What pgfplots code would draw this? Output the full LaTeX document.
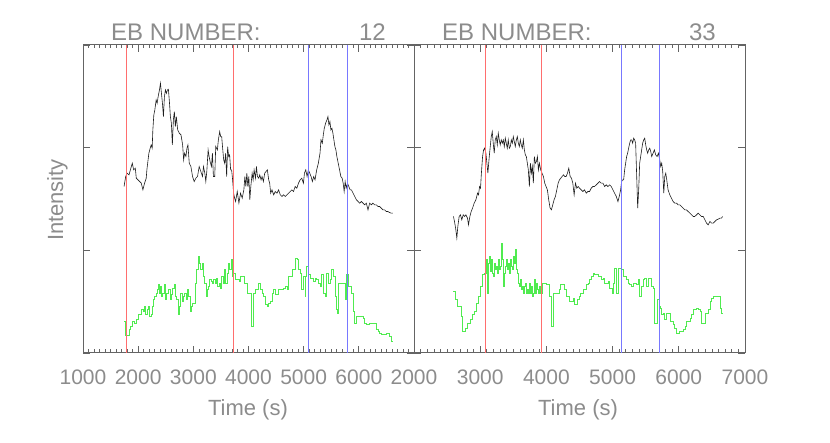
\documentclass[border=0pt]{standalone}
\usepackage{fontspec}
\setmainfont{Liberation Sans}
\usepackage{pgfplots}
\pgfplotsset{compat=1.18}
\definecolor{txtgray}{RGB}{140,140,140}
\definecolor{axgray}{RGB}{100,100,100}
\definecolor{vred}{RGB}{255,110,110}
\definecolor{vblue}{RGB}{120,120,255}
\definecolor{lgreen}{RGB}{80,235,80}
\definecolor{curve}{RGB}{30,30,30}
\newcommand{\ticklbl}{\fontsize{21}{22}\selectfont}
\newcommand{\axlbl}{\fontsize{22}{23}\selectfont}
\newcommand{\ttl}{\fontsize{24}{25}\selectfont}
\pgfplotsset{
  ebpanel/.style={
    scale only axis, anchor=south west,
    width=331pt, height=308pt, ymin=0, ymax=925,
    axis line style={axgray, line width=1pt},
    tick style={axgray, line width=0.7pt},
    major tick length=7pt, minor tick length=3.5pt,
    tick align=inside,
    ytick={0,308.33,616.67,925}, minor y tick num=4, yticklabels={},
    minor x tick num=9,
    xticklabel style={font=\ticklbl, text=txtgray, yshift=-13pt},
    clip=false,
  },
  vline/.style={line width=0.9pt},
}
\begin{document}
\begin{tikzpicture}
\path[use as bounding box] (0pt,0pt) rectangle (830pt,443pt);

% left panel
\begin{axis}[ebpanel, at={(83pt,90pt)},
  xmin=1000, xmax=7000, xtick={1000,2000,...,7000},
  xticklabels={1000,2000,3000,4000,5000,6000,}]
  \addplot[curve, line width=0.6pt] coordinates {
    (1744,500)(1774,530)(1798,540)(1834,535)(1876,560)(1894,570)(1918,550)(1948,555)(1966,525)(1996,520)
    (2026,515)(2056,510)(2086,490)(2116,510)(2146,525)(2158,550)(2176,575)(2194,600)(2218,615)(2236,625)
    (2254,615)(2266,670)(2284,715)(2302,730)(2326,760)(2344,750)(2362,770)(2386,790)(2404,810)(2422,780)
    (2440,750)(2458,710)(2476,770)(2494,790)(2512,780)(2530,790)(2548,792)(2566,755)(2584,710)(2602,690)
    (2620,625)(2638,700)(2656,725)(2674,680)(2692,710)(2716,670)(2746,660)(2776,655)(2806,625)(2824,580)
    (2842,600)(2866,590)(2884,615)(2902,625)(2926,570)(2956,560)(2986,530)(3016,515)(3046,525)(3076,530)
    (3106,560)(3136,545)(3166,530)(3184,560)(3208,540)(3226,515)(3244,545)(3268,610)(3286,590)(3304,575)
    (3328,560)(3346,600)(3364,530)(3388,530)(3406,620)(3436,610)(3454,640)(3478,665)(3496,650)(3514,650)
    (3526,625)(3550,580)(3568,570)(3586,600)(3604,530)(3622,620)(3640,590)(3658,595)(3676,550)(3694,550)
    (3712,520)(3730,480)(3748,465)(3766,455)(3796,485)(3826,450)(3856,480)(3886,465)(3916,490)(3934,530)
    (3952,500)(3970,540)(3988,500)(4006,530)(4024,460)(4042,500)(4066,540)(4084,520)(4102,550)(4126,525)
    (4144,560)(4162,530)(4186,525)(4204,535)(4228,520)(4246,530)(4270,515)(4294,540)(4318,545)(4342,550)
    (4366,520)(4384,510)(4402,480)(4426,490)(4456,475)(4486,485)(4516,480)(4546,490)(4576,475)(4606,470)
    (4636,475)(4666,470)(4696,475)(4726,480)(4756,485)(4786,490)(4816,485)(4846,500)(4876,495)(4906,510)
    (4936,520)(4966,525)(4996,510)(5014,540)(5038,550)(5062,530)(5086,550)(5110,540)(5134,530)(5158,515)
    (5182,530)(5206,520)(5236,550)(5266,570)(5296,600)(5314,640)(5338,630)(5356,655)(5374,675)(5398,690)
    (5422,700)(5440,710)(5458,685)(5476,695)(5494,670)(5512,675)(5530,660)(5548,640)(5566,620)(5584,610)
    (5602,590)(5626,570)(5650,550)(5674,530)(5698,525)(5716,510)(5734,485)(5752,515)(5770,495)(5794,510)
    (5818,500)(5842,490)(5866,490)(5896,480)(5926,470)(5956,460)(5986,455)(6016,450)(6046,455)(6076,450)
    (6106,445)(6136,450)(6166,430)(6196,450)(6226,445)(6256,450)(6286,445)(6316,445)(6346,440)(6376,440)
    (6406,435)(6436,430)(6466,430)(6496,425)(6526,425)(6556,422)(6586,420)(6616,420)};
  \addplot[lgreen, line width=0.6pt, const plot] coordinates {
    (1744,95)(1774,52)(1834,70)(1864,80)(1894,95)(1936,90)(1966,100)(1996,115)(2026,115)(2056,130)
    (2086,125)(2104,140)(2134,115)(2158,130)(2188,140)(2206,110)(2230,115)(2248,140)(2266,160)(2296,170)
    (2326,180)(2344,190)(2362,205)(2386,180)(2404,200)(2428,170)(2446,180)(2470,205)(2488,160)(2506,180)
    (2530,180)(2554,190)(2578,160)(2602,175)(2626,195)(2650,205)(2674,170)(2698,160)(2722,115)(2746,140)
    (2770,180)(2794,155)(2818,170)(2842,180)(2866,160)(2890,190)(2914,170)(2938,125)(2962,140)(2986,150)
    (3034,210)(3058,250)(3082,290)(3106,270)(3130,250)(3154,270)(3178,230)(3202,210)(3226,170)(3250,190)
    (3274,200)(3298,220)(3322,215)(3346,210)(3370,220)(3394,210)(3418,225)(3442,200)(3466,210)(3490,195)
    (3514,230)(3538,210)(3562,250)(3586,210)(3610,240)(3634,270)(3658,250)(3682,280)(3706,230)(3730,240)
    (3766,220)(3826,215)(3856,230)(3916,210)(3976,180)(4054,80)(4078,180)(4126,190)(4186,210)(4216,190)
    (4246,180)(4276,170)(4306,145)(4336,140)(4366,150)(4396,155)(4426,180)(4456,190)(4486,175)(4546,190)
    (4636,195)(4666,200)(4696,190)(4726,230)(4786,250)(4846,285)(4876,280)(4906,250)(4936,240)(4966,190)
    (4996,230)(5026,170)(5038,230)(5056,260)(5086,235)(5116,225)(5176,215)(5206,225)(5236,220)(5266,210)
    (5296,200)(5326,235)(5356,180)(5386,170)(5416,240)(5446,210)(5476,220)(5506,250)(5536,230)(5566,170)
    (5584,130)(5602,120)(5626,210)(5746,160)(5764,235)(5818,200)(5866,180)(5896,125)(5926,90)(5956,110)
    (6076,105)(6106,90)(6136,85)(6196,90)(6316,70)(6346,65)(6376,60)(6406,55)(6496,60)(6556,50)
    (6586,35)(6616,35)};
  \addplot[vred, vline] coordinates {(1787,0)(1787,925)};
  \addplot[vred, vline] coordinates {(3726,0)(3726,925)};
  \addplot[vblue, vline] coordinates {(5090,0)(5090,925)};
  \addplot[vblue, vline] coordinates {(5799,0)(5799,925)};
\end{axis}

% right panel
\begin{axis}[ebpanel, at={(414pt,90pt)},
  xmin=2000, xmax=7000, xtick={2000,3000,...,7000},
  xticklabels={2000,3000,4000,5000,6000,7000}]
  \addplot[curve, line width=0.6pt] coordinates {
    (2596,410)(2616,390)(2632,370)(2647,345)(2662,380)(2682,410)(2702,415)(2722,400)(2743,415)(2763,410)
    (2783,415)(2808,405)(2823,385)(2844,410)(2864,425)(2884,435)(2909,450)(2935,460)(2960,480)(2975,475)
    (2990,500)(3005,495)(3015,530)(3025,560)(3036,590)(3051,610)(3066,615)(3086,600)(3101,570)(3116,540)
    (3137,590)(3152,620)(3167,650)(3182,665)(3197,630)(3212,600)(3227,640)(3243,650)(3258,625)(3273,660)
    (3288,640)(3303,625)(3318,640)(3334,630)(3349,640)(3364,620)(3379,645)(3394,630)(3409,615)(3424,640)
    (3440,615)(3455,620)(3470,640)(3485,630)(3500,650)(3515,635)(3530,620)(3546,640)(3561,650)(3576,630)
    (3591,620)(3606,640)(3621,625)(3636,615)(3652,640)(3667,610)(3682,595)(3697,590)(3712,570)(3727,550)
    (3743,500)(3758,570)(3773,540)(3788,560)(3803,510)(3818,590)(3833,570)(3849,575)(3864,590)(3879,550)
    (3894,570)(3914,550)(3934,540)(3955,530)(3975,510)(3995,500)(4015,490)(4035,460)(4056,435)(4076,430)
    (4096,445)(4116,460)(4136,470)(4157,490)(4177,510)(4197,520)(4217,525)(4237,530)(4258,535)(4278,530)
    (4298,530)(4318,540)(4338,555)(4359,530)(4379,525)(4399,510)(4419,475)(4439,510)(4460,495)(4480,500)
    (4500,495)(4525,490)(4551,485)(4576,490)(4601,480)(4626,485)(4652,485)(4677,495)(4702,500)(4727,500)
    (4753,505)(4778,510)(4803,515)(4828,510)(4854,510)(4879,500)(4904,505)(4929,500)(4955,505)(4980,500)
    (5005,490)(5030,480)(5056,470)(5081,455)(5106,475)(5121,490)(5136,515)(5151,520)(5167,520)(5182,550)
    (5197,570)(5212,590)(5227,600)(5242,615)(5258,630)(5273,640)(5288,640)(5303,630)(5318,645)(5333,640)
    (5348,630)(5364,530)(5379,435)(5394,490)(5409,570)(5424,590)(5439,610)(5454,630)(5470,640)(5485,645)
    (5500,625)(5515,610)(5530,600)(5545,610)(5561,615)(5576,605)(5591,590)(5611,600)(5631,610)(5651,595)
    (5672,590)(5692,600)(5712,580)(5727,560)(5742,570)(5757,545)(5773,480)(5788,530)(5803,540)(5818,520)
    (5838,490)(5864,475)(5889,465)(5914,455)(5939,450)(5965,450)(5990,445)(6015,445)(6040,440)(6066,435)
    (6091,430)(6116,430)(6141,425)(6167,420)(6192,415)(6217,410)(6242,410)(6268,415)(6293,420)(6318,415)
    (6343,410)(6369,410)(6394,400)(6419,390)(6444,385)(6470,395)(6495,390)(6520,390)(6545,395)(6571,400)
    (6596,402)(6621,405)(6646,405)(6661,410)};
  \addplot[lgreen, line width=0.6pt, const plot] coordinates {
    (2596,185)(2621,160)(2657,140)(2707,110)(2733,65)(2773,75)(2808,90)(2844,100)(2874,115)(2909,125)
    (2945,150)(2975,170)(3005,200)(3036,235)(3066,240)(3086,280)(3106,180)(3121,270)(3137,290)(3152,245)
    (3167,280)(3182,240)(3197,230)(3212,270)(3227,250)(3243,260)(3258,240)(3273,280)(3288,250)(3303,260)
    (3318,330)(3334,280)(3349,200)(3364,240)(3379,260)(3394,280)(3409,250)(3424,270)(3440,240)(3455,280)
    (3470,260)(3485,250)(3500,290)(3515,270)(3530,310)(3546,250)(3561,240)(3576,210)(3591,200)(3606,220)
    (3621,190)(3636,200)(3652,180)(3667,200)(3682,210)(3697,180)(3712,190)(3727,180)(3743,210)(3758,180)
    (3773,200)(3788,170)(3803,180)(3818,220)(3833,180)(3849,210)(3864,190)(3879,180)(3894,200)(3914,180)
    (3934,210)(3995,205)(4045,170)(4071,80)(4111,180)(4197,190)(4217,205)(4268,190)(4308,170)(4349,155)
    (4399,165)(4424,145)(4470,160)(4490,170)(4510,180)(4551,190)(4601,205)(4626,210)(4652,220)(4677,230)
    (4702,240)(4727,235)(4778,230)(4828,220)(4854,225)(4879,210)(4929,215)(4955,195)(4990,180)(5005,210)
    (5030,255)(5056,180)(5081,255)(5131,250)(5157,230)(5207,220)(5232,210)(5258,205)(5283,200)(5308,210)
    (5359,205)(5384,220)(5409,170)(5434,200)(5460,220)(5485,225)(5510,200)(5535,225)(5586,200)(5611,195)
    (5636,90)(5672,160)(5702,140)(5722,135)(5742,115)(5763,120)(5788,100)(5813,120)(5864,95)(5914,85)
    (5939,75)(5965,60)(6015,65)(6066,70)(6091,80)(6116,95)(6167,105)(6192,115)(6217,130)(6268,135)
    (6293,130)(6318,125)(6343,90)(6394,120)(6444,130)(6470,155)(6495,165)(6520,170)(6621,135)(6646,120)
    (6661,120)};
  \addplot[vred, vline] coordinates {(3086,0)(3086,925)};
  \addplot[vred, vline] coordinates {(3929,0)(3929,925)};
  \addplot[vblue, vline] coordinates {(5141,0)(5141,925)};
  \addplot[vblue, vline] coordinates {(5702,0)(5702,925)};
\end{axis}

% titles and axis labels
\begin{scope}[every node/.style={text=txtgray, inner sep=0pt}]
\node[font=\ttl, anchor=base west] at (111pt,402pt) {EB NUMBER:};
\node[font=\ttl, anchor=base east] at (386pt,402pt) {12};
\node[font=\ttl, anchor=base west] at (442pt,402pt) {EB NUMBER:};
\node[font=\ttl, anchor=base east] at (716pt,402pt) {33};
\node[font=\axlbl, anchor=base] at (248pt,27pt) {Time (s)};
\node[font=\axlbl, anchor=base] at (578pt,27pt) {Time (s)};
\node[font=\axlbl, rotate=90, anchor=base] at (63pt,243pt) {Intensity};
\end{scope}
\end{tikzpicture}
\end{document}
